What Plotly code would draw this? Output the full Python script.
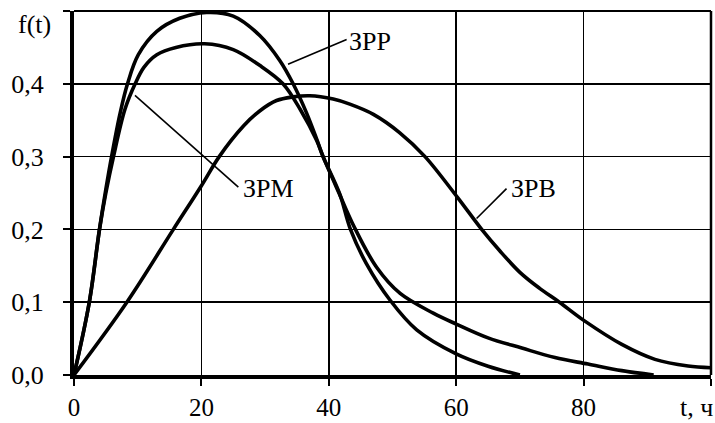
import plotly.graph_objects as go

# ---- data ----
t_zrr = [0, 2.4, 4.0, 5.0, 5.9, 7.2, 8.4, 10.1, 13.0, 16.6, 20.8, 25.0, 29.2, 32.3, 34.4, 36.5, 38.1, 39.1, 41.7, 43.4, 45.9, 49.6, 53.8, 60.0, 65.0, 70.0]
v_zrr = [0, 0.10, 0.20, 0.255, 0.30, 0.358, 0.40, 0.440, 0.472, 0.490, 0.498, 0.493, 0.466, 0.432, 0.40, 0.36, 0.324, 0.30, 0.249, 0.20, 0.153, 0.103, 0.062, 0.029, 0.012, 0.0]

t_zrm = [0, 2.4, 4.0, 5.0, 6.2, 8.0, 9.6, 11.0, 13.0, 16.0, 20.5, 25.0, 29.2, 32.8, 35.5, 38.1, 39.1, 41.6, 43.9, 47.5, 51.2, 56.4, 60.0, 65.0, 70.3, 75.5, 80.7, 86.0, 91.0]
v_zrm = [0, 0.10, 0.20, 0.25, 0.30, 0.365, 0.40, 0.423, 0.440, 0.450, 0.455, 0.447, 0.425, 0.40, 0.365, 0.322, 0.30, 0.25, 0.205, 0.148, 0.112, 0.085, 0.070, 0.051, 0.037, 0.024, 0.015, 0.006, 0.0]

t_zrv = [0, 8.3, 15.6, 20.0, 22.8, 26.6, 29.2, 31.8, 34.4, 37.0, 40.7, 43.3, 47.0, 51.1, 55.1, 60.2, 64.0, 66.8, 70.0, 73.1, 76.2, 80.2, 86.0, 91.2, 96.4, 100]
v_zrv = [0, 0.10, 0.20, 0.26, 0.30, 0.342, 0.363, 0.377, 0.382, 0.3836, 0.379, 0.372, 0.358, 0.333, 0.30, 0.244, 0.20, 0.171, 0.141, 0.119, 0.10, 0.074, 0.042, 0.0215, 0.0123, 0.010]

x_ticks = [0, 20, 40, 60, 80, 100]
x_tick_text = ["0", "20", "40", "60", "80", ""]
y_ticks = [0, 0.1, 0.2, 0.3, 0.4, 0.5]
y_tick_text = ["0,0", "0,1", "0,2", "0,3", "0,4", ""]

labels = ["ЗРР", "ЗРМ", "ЗРВ"]
label_pos = [(42.8, 0.4575), (26.2, 0.256), (68.3, 0.256)]
leader_lines = [((33.6, 0.427), (42.8, 0.461)),
                ((9.57, 0.384), (25.8, 0.258)),
                ((63.2, 0.215), (67.9, 0.256))]

FONT = "Liberation Serif, Times New Roman, serif"

fig = go.Figure()
for tx, vy in [(t_zrr, v_zrr), (t_zrm, v_zrm), (t_zrv, v_zrv)]:
    fig.add_trace(go.Scatter(x=tx, y=vy, mode="lines",
                             line=dict(color="black", width=3.6, shape="spline", smoothing=1.0),
                             showlegend=False, hoverinfo="skip"))

shapes = []
for (p0, p1) in leader_lines:
    shapes.append(dict(type="line", xref="x", yref="y", x0=p0[0], y0=p0[1], x1=p1[0], y1=p1[1],
                       line=dict(color="black", width=1.6)))
# top and right frame lines
shapes.append(dict(type="line", xref="paper", yref="paper", x0=0, y0=1, x1=1, y1=1,
                   line=dict(color="black", width=2)))
shapes.append(dict(type="line", xref="paper", yref="paper", x0=1, y0=0, x1=1, y1=1,
                   line=dict(color="black", width=2.5)))

annotations = []
for txt, (ax_, ay_) in zip(labels, label_pos):
    annotations.append(dict(x=ax_, y=ay_, xref="x", yref="y", text=txt, showarrow=False,
                            xanchor="left", yanchor="middle",
                            font=dict(family=FONT, size=26, color="black")))
annotations.append(dict(x=-0.033, y=0.964, xref="paper", yref="paper", text="f(t)", showarrow=False,
                        xanchor="right", yanchor="middle", font=dict(family=FONT, size=26, color="black")))
annotations.append(dict(x=1.006, y=-0.09, xref="paper", yref="paper", text="t, ч", showarrow=False,
                        xanchor="right", yanchor="middle", font=dict(family=FONT, size=26, color="black")))

fig.update_layout(
    width=715, height=423,
    margin=dict(l=74, r=4, t=11, b=48, autoexpand=False),
    paper_bgcolor="white", plot_bgcolor="white",
    shapes=shapes, annotations=annotations,
    font=dict(family=FONT, size=26, color="black"),
)
fig.update_xaxes(range=[0, 100], tickvals=x_ticks, ticktext=x_tick_text,
                 showgrid=True, gridcolor="black", gridwidth=1.5,
                 showline=True, linecolor="black", linewidth=4,
                 ticks="outside", ticklen=7, tickwidth=2, tickcolor="black",
                 ticklabelstandoff=0, zeroline=False, automargin=False,
                 tickfont=dict(family=FONT, size=25, color="black"))
fig.update_yaxes(range=[0, 0.5], tickvals=y_ticks, ticktext=y_tick_text,
                 showgrid=True, gridcolor="black", gridwidth=1.5,
                 showline=True, linecolor="black", linewidth=4,
                 ticks="outside", ticklen=7, tickwidth=2, tickcolor="black",
                 ticklabelstandoff=14, zeroline=False, automargin=False,
                 tickfont=dict(family=FONT, size=26, color="black"))

fig.write_html("out.html", config={"displayModeBar": False, "staticPlot": True},
               post_script="document.body.style.margin='0';document.body.style.overflow='hidden';")
